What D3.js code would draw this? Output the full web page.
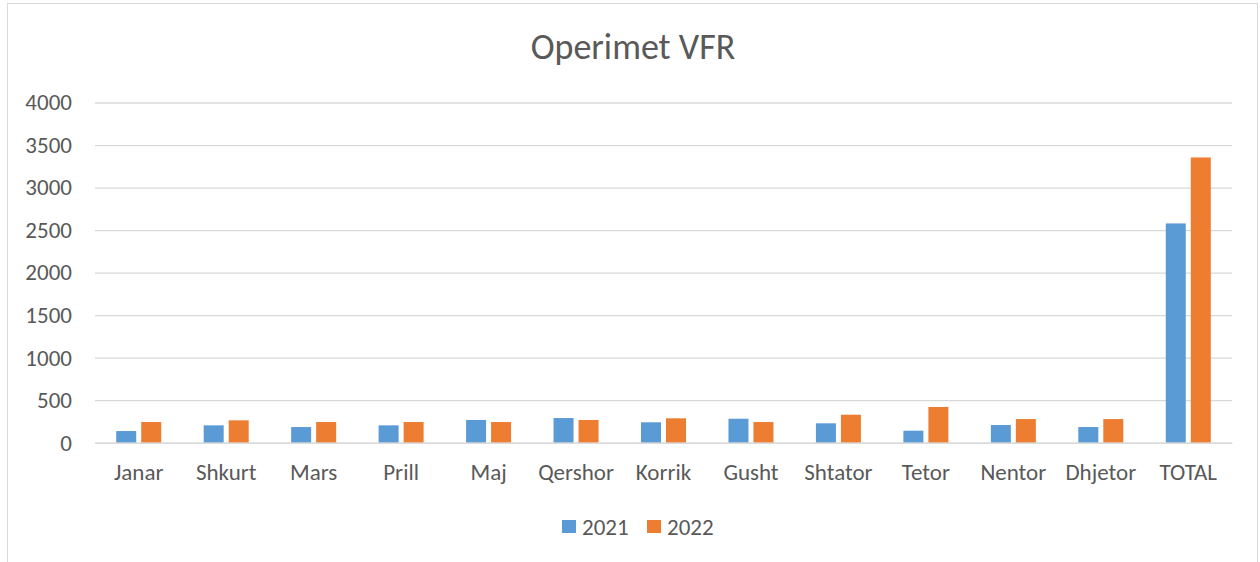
<!DOCTYPE html>
<html>
<head>
<meta charset="utf-8">
<script src="https://cdn.jsdelivr.net/npm/d3@7"></script>
<style>
  body { margin: 0; background: #fff; }
  svg { display: block; font-family: Carlito, Lato, "Open Sans", sans-serif; }
</style>
</head>
<body>
<svg id="chart" width="1260" height="562"></svg>
<script>
// ---------- DATA ----------
const months = ["Janar", "Shkurt", "Mars", "Prill", "Maj", "Qershor", "Korrik",
                "Gusht", "Shtator", "Tetor", "Nentor", "Dhjetor", "TOTAL"];
const seriesNames = ["2021", "2022"];
const values2021 = [137, 204, 184, 204, 267, 290, 240, 282, 228, 141, 208, 184, 2578];
const values2022 = [243, 263, 243, 243, 243, 267, 287, 243, 329, 420, 278, 278, 3354];
const yTicks = [0, 500, 1000, 1500, 2000, 2500, 3000, 3500, 4000];
const colors = ["#5b9bd5", "#ed7d31"];

// ---------- LAYOUT ----------
const svg = d3.select("#chart");
const plot = { left: 95, right: 1232, top: 102.5, bottom: 442.7 };
const textColor = "#595959";
const gridColor = "#d9d9d9";
const font = "Carlito, Lato, 'Open Sans', sans-serif";

// outer chart border
svg.append("rect")
  .attr("x", 7.5).attr("y", 3.5)
  .attr("width", 1250).attr("height", 570)
  .attr("fill", "#fff")
  .attr("stroke", gridColor).attr("stroke-width", 1);

svg.append("text")
  .attr("x", 633).attr("y", 59)
  .attr("text-anchor", "middle")
  .attr("font-size", 36)
  .attr("fill", textColor)
  .text("Operimet VFR");

const x = d3.scaleBand().domain(months).range([plot.left, plot.right]).padding(0);
const y = d3.scaleLinear().domain([0, 4000]).range([plot.bottom, plot.top]);

// ---------- GRID + Y AXIS ----------
const yAxis = svg.append("g")
  .attr("transform", `translate(${plot.left},0)`)
  .call(d3.axisLeft(y).tickValues(yTicks).tickFormat(d3.format("d"))
    .tickSize(-(plot.right - plot.left)).tickPadding(23));
yAxis.select(".domain").remove();
yAxis.selectAll(".tick line").attr("stroke", gridColor).attr("stroke-width", 1.3);
yAxis.selectAll(".tick text")
  .attr("fill", textColor)
  .attr("font-size", 23)
  .attr("font-family", font);

// ---------- BARS ----------
const barW = 20, barGap = 5;
const rows = months.map((m, i) => ({ m, vals: [values2021[i], values2022[i]] }));
const groups = svg.append("g").selectAll("g")
  .data(rows).join("g")
  .attr("transform", d => `translate(${x(d.m) + x.bandwidth() / 2},0)`);

groups.selectAll("rect")
  .data(d => d.vals.map((v, k) => ({ v, k })))
  .join("rect")
  .attr("x", d => d.k === 0 ? -(barW + barGap / 2) : barGap / 2)
  .attr("width", barW)
  .attr("y", d => y(d.v))
  .attr("height", d => y(0) - y(d.v))
  .attr("fill", d => colors[d.k]);

// ---------- X AXIS ----------
const xAxis = svg.append("g")
  .attr("transform", `translate(0,${plot.bottom})`)
  .call(d3.axisBottom(x).tickSize(0).tickPadding(21));
xAxis.select(".domain").attr("stroke", gridColor).attr("stroke-width", 1.3);
xAxis.selectAll(".tick text")
  .attr("fill", textColor)
  .attr("font-size", 23)
  .attr("font-family", font);

// ---------- LEGEND ----------
const legendX = [562, 647];
const legend = svg.append("g").selectAll("g")
  .data(seriesNames).join("g")
  .attr("transform", (d, i) => `translate(${legendX[i]},520)`);
legend.append("rect")
  .attr("width", 14).attr("height", 13)
  .attr("fill", (d, i) => colors[i]);
legend.append("text")
  .attr("x", 20).attr("y", 14.5)
  .attr("font-size", 23)
  .attr("fill", textColor)
  .text(d => d);
</script>
</body>
</html>
